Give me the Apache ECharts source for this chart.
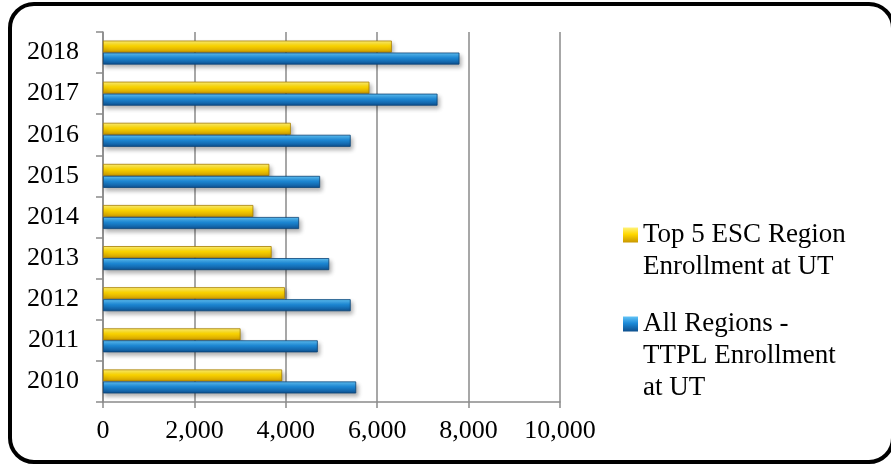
<!DOCTYPE html>
<html>
<head>
<meta charset="utf-8">
<script src="https://cdn.jsdelivr.net/npm/echarts@6/dist/echarts.min.js"></script>
<style>
  html, body { margin: 0; padding: 0; background: #fff; }
  #chart { width: 891px; height: 465px; }
</style>
</head>
<body>
<div id="chart"></div>
<script>
var years = ['2010', '2011', '2012', '2013', '2014', '2015', '2016', '2017', '2018']
var top5Name = 'Top 5 ESC Region\nEnrollment at UT'
var allName = 'All Regions -\nTTPL Enrollment\nat UT'
var top5Values = [3920, 3010, 3980, 3690, 3290, 3640, 4110, 5830, 6320]
var allValues = [5540, 4700, 5420, 4950, 4290, 4750, 5420, 7320, 7800]
var xTicks = [0, 2000, 4000, 6000, 8000, 10000]

var font = '"Liberation Serif", "DejaVu Serif", serif'
var gray = '#8a8a8a'

// vertical gradient squeezed into [0, end] of the shape height
function grad (c1, c2, c3, end) {
  end = end || 1
  return new echarts.graphic.LinearGradient(0, 0, 0, 1, [
    {offset: 0, color: c1},
    {offset: 0.45 * end, color: c2},
    {offset: end, color: c3},
    {offset: 1, color: c3}
  ])
}
var yellow = ['#fff27a', '#ffd800', '#c99700']
var blue = ['#62c4f7', '#1d8ad8', '#0d4f8e']

// legend squares sit on the first text line: a 15px square plus an empty point below it
var iconTwoLines = 'path://M0,0L15,0L15,15L0,15Z M7.5,47L7.51,47'
var iconThreeLines = 'path://M0,0L15,0L15,15L0,15Z M7.5,79L7.51,79'

var chart = echarts.init(document.getElementById('chart'))
var barShadow = {shadowBlur: 4, shadowOffsetX: 2, shadowOffsetY: 3, shadowColor: 'rgba(0,0,0,0.3)'}

chart.setOption({
  backgroundColor: '#fff',
  animation: false,
  textStyle: {fontFamily: font, color: '#000'},
  graphic: [{
    type: 'rect',
    shape: {x: 10, y: 4, width: 883, height: 458, r: 24},
    style: {fill: 'none', stroke: '#000', lineWidth: 4},
    z: 100
  }],
  grid: {left: 103, right: 331, top: 32, bottom: 63, containLabel: false},
  legend: {
    orient: 'vertical',
    left: 623,
    top: 219,
    padding: 0,
    itemWidth: 15,
    itemHeight: 79,
    itemGap: 25,
    textStyle: {fontFamily: font, fontSize: 27, color: '#000', lineHeight: 32},
    data: [
      {name: top5Name, icon: iconTwoLines,
        itemStyle: {color: grad(yellow[0], yellow[1], yellow[2], 15 / 47), borderWidth: 0}},
      {name: allName, icon: iconThreeLines,
        itemStyle: {color: grad(blue[0], blue[1], blue[2], 15 / 79), borderWidth: 0}}
    ]
  },
  xAxis: {
    type: 'value',
    min: xTicks[0],
    max: xTicks[xTicks.length - 1],
    interval: 2000,
    axisLine: {show: true, lineStyle: {color: gray, width: 1.5}},
    axisTick: {show: true, length: 6, lineStyle: {color: gray, width: 1.5}},
    splitLine: {show: true, lineStyle: {color: gray, width: 1.5}},
    axisLabel: {
      fontFamily: font, fontSize: 26, color: '#000', margin: 16,
      formatter: function (v) { return v.toLocaleString('en-US') }
    }
  },
  yAxis: {
    type: 'category',
    data: years,
    axisLine: {show: true, lineStyle: {color: gray, width: 1.5}},
    axisTick: {show: true, length: 7, lineStyle: {color: gray, width: 1.5}},
    axisLabel: {fontFamily: font, fontSize: 26, color: '#000', margin: 24}
  },
  series: [
    {
      name: top5Name,
      type: 'bar',
      data: top5Values,
      barWidth: 12,
      barGap: '0%',
      itemStyle: Object.assign({color: grad(yellow[0], yellow[1], yellow[2]), borderColor: '#a77d00', borderWidth: 0.8}, barShadow)
    },
    {
      name: allName,
      type: 'bar',
      data: allValues,
      barWidth: 12,
      barGap: '0%',
      itemStyle: Object.assign({color: grad(blue[0], blue[1], blue[2]), borderColor: '#0a4477', borderWidth: 0.8}, barShadow)
    }
  ]
})
</script>
</body>
</html>
